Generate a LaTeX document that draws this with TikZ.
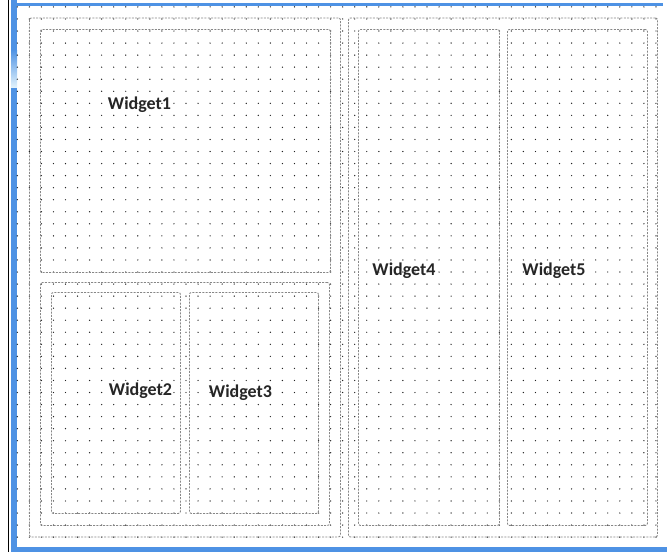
\documentclass[tikz,border=0pt]{standalone}
\usepackage{fontspec}
\setmainfont{Carlito}
\definecolor{winblue}{RGB}{78,146,228}
\definecolor{winlight}{RGB}{225,242,252}
\definecolor{framegray}{RGB}{135,135,135}
\definecolor{dotgray}{RGB}{35,35,35}
\tikzset{
  frame/.style={draw=framegray, line width=0.9pt, dash pattern=on 2pt off 1.3pt, rounded corners=2pt},
  wlabel/.style={font=\fontsize{18}{20}\selectfont\bfseries, text=black!85, inner sep=0pt},
}
\begin{document}
\begin{tikzpicture}[x=1pt,y=-1pt]
\useasboundingbox (0,0) rectangle (667,552);
\fill[white] (0,0) rectangle (667,552);
% window border
\draw[black, line width=1.4pt] (8.3,0) -- (8.3,552);
\fill[winblue] (11,3) rectangle (663,6.2);
\fill[winblue] (11,0) rectangle (17,552);
\shade[top color=winblue, bottom color=winlight] (11,50) rectangle (17,87);
\fill[winblue] (11,546.8) rectangle (667,552);
% dot grid
\foreach \i in {0,...,53}{
  \foreach \j in {0,...,44}{
    \fill[dotgray] (17.3+12.05*\i, 6.9+12.05*\j) circle (0.7);
  }
}
% containers and widgets
\node[frame, rectangle, anchor=north west, minimum width=311pt, minimum height=519pt, inner sep=0pt] (leftbox) at (29,17.5) {};
\node[frame, rectangle, anchor=north west, minimum width=309pt, minimum height=519pt, inner sep=0pt] (rightbox) at (348,17.5) {};
\node[frame, rectangle, anchor=north west, minimum width=290pt, minimum height=243pt, inner sep=0pt] (w1) at (40,29) {};
\node[frame, rectangle, anchor=north west, minimum width=289pt, minimum height=243pt, inner sep=0pt] (lowbox) at (40,282) {};
\node[frame, rectangle, anchor=north west, minimum width=129pt, minimum height=221pt, inner sep=0pt] (w2) at (51,292) {};
\node[frame, rectangle, anchor=north west, minimum width=129pt, minimum height=221pt, inner sep=0pt] (w3) at (189,292) {};
\node[frame, rectangle, anchor=north west, minimum width=141pt, minimum height=496pt, inner sep=0pt] (w4) at (358,29) {};
\node[frame, rectangle, anchor=north west, minimum width=140pt, minimum height=496pt, inner sep=0pt] (w5) at (507,29) {};
% labels
\node[wlabel] (l1) at (139.5,105) {Widget1};
\node[wlabel] (l2) at (140.5,390.5) {Widget2};
\node[wlabel] (l3) at (240.5,392.5) {Widget3};
\node[wlabel] (l4) at (404,271) {Widget4};
\node[wlabel] (l5) at (554,271) {Widget5};
\end{tikzpicture}
\end{document}
